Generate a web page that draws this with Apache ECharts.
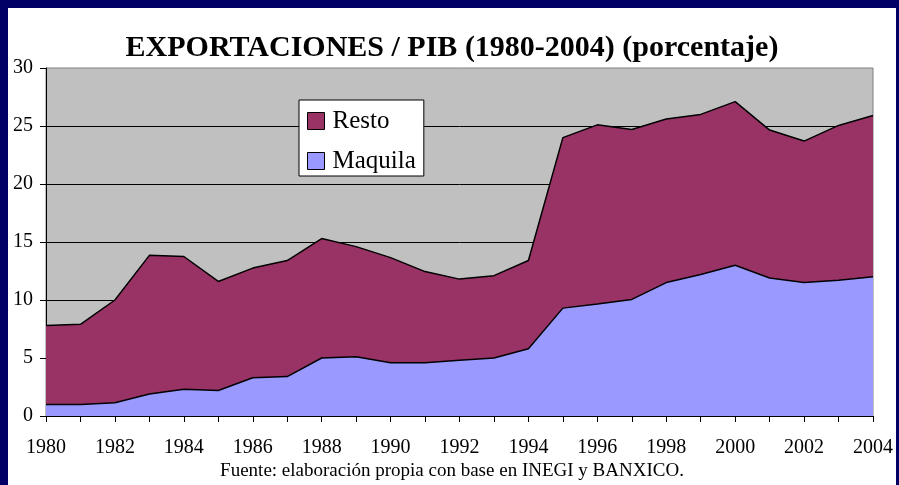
<!DOCTYPE html>
<html>
<head>
<meta charset="utf-8">
<script src="https://cdn.jsdelivr.net/npm/echarts@6/dist/echarts.min.js"></script>
<style>
  html, body { margin: 0; padding: 0; background: #000066; }
  #frame { position: absolute; left: 0; top: 0; width: 899px; height: 485px; background: #000066; }
  #chart { position: absolute; left: 8px; top: 8px; width: 888px; height: 477px; background: #ffffff; }
</style>
</head>
<body>
<div id="frame"><div id="chart"></div></div>
<script>
// años (eje x)
const years = ['1980', '1981', '1982', '1983', '1984', '1985', '1986', '1987', '1988', '1989',
  '1990', '1991', '1992', '1993', '1994', '1995', '1996', '1997', '1998', '1999',
  '2000', '2001', '2002', '2003', '2004']
// exportaciones de maquila / PIB (%)
const maquila = [1.0, 1.0, 1.15, 1.9, 2.3, 2.2, 3.3, 3.4, 5.0, 5.1,
  4.6, 4.6, 4.8, 5.0, 5.8, 9.3, 9.65, 10.05, 11.5, 12.2,
  13.0, 11.9, 11.5, 11.7, 12.0]
// resto de exportaciones / PIB (%)
const resto = [6.8, 6.9, 8.85, 11.95, 11.45, 9.4, 9.45, 10.0, 10.3, 9.5,
  9.05, 7.85, 7.0, 7.1, 7.6, 14.7, 15.45, 14.65, 14.1, 13.8,
  14.1, 12.75, 12.2, 13.35, 13.9]
const yTicks = { min: 0, max: 30, interval: 5 }

const serif = "'Liberation Serif', 'Times New Roman', serif"
const chart = echarts.init(document.getElementById('chart'))

chart.setOption({
  animation: false,
  title: {
    text: 'EXPORTACIONES / PIB (1980-2004) (porcentaje)',
    left: 'center',
    top: 20,
    textStyle: { fontFamily: serif, fontSize: 30, fontWeight: 'bold', color: '#000' }
  },
  legend: {
    data: ['Resto', 'Maquila'],
    orient: 'vertical',
    left: 291,
    top: 92,
    icon: 'rect',
    itemWidth: 17,
    itemHeight: 17,
    itemGap: 10,
    padding: [6, 8, 0, 8],
    backgroundColor: '#fff',
    borderColor: '#000',
    borderWidth: 1,
    borderRadius: 0,
    itemStyle: { borderColor: '#000', borderWidth: 1 },
    textStyle: { fontFamily: serif, fontSize: 25, color: '#000', lineHeight: 30, padding: [0, 0, 0, 3] }
  },
  grid: {
    left: 38,
    right: 20,
    top: 60,
    bottom: 69,
    show: true,
    backgroundColor: '#C0C0C0',
    borderColor: '#808080',
    borderWidth: 1
  },
  xAxis: {
    type: 'category',
    data: years,
    boundaryGap: false,
    axisLine: { lineStyle: { color: '#000', width: 1 } },
    axisTick: { show: true, interval: 0, length: 6, lineStyle: { color: '#000' } },
    axisLabel: { interval: 1, margin: 22, fontFamily: serif, fontSize: 20, color: '#000' },
    splitLine: { show: false }
  },
  yAxis: {
    type: 'value',
    min: yTicks.min,
    max: yTicks.max,
    interval: yTicks.interval,
    axisLine: { show: true, lineStyle: { color: '#000', width: 1 } },
    axisTick: { show: true, length: 6, lineStyle: { color: '#000' } },
    axisLabel: { margin: 13, fontFamily: serif, fontSize: 20, color: '#000' },
    splitLine: { show: true, showMaxLine: false, lineStyle: { color: '#000', width: 1 } }
  },
  graphic: [{
    type: 'text',
    left: 'center',
    top: 454,
    style: {
      text: 'Fuente: elaboración propia con base en INEGI y BANXICO.',
      font: '19px ' + serif,
      fill: '#000'
    }
  }],
  series: [
    {
      name: 'Maquila',
      type: 'line',
      stack: 'total',
      data: maquila,
      symbol: 'none',
      color: '#9999FF',
      lineStyle: { color: '#000', width: 1.5 },
      areaStyle: { color: '#9999FF', opacity: 1 },
      itemStyle: { color: '#9999FF' }
    },
    {
      name: 'Resto',
      type: 'line',
      stack: 'total',
      data: resto,
      symbol: 'none',
      color: '#993366',
      lineStyle: { color: '#000', width: 1.5 },
      areaStyle: { color: '#993366', opacity: 1 },
      itemStyle: { color: '#993366' }
    }
  ]
})
</script>
</body>
</html>
